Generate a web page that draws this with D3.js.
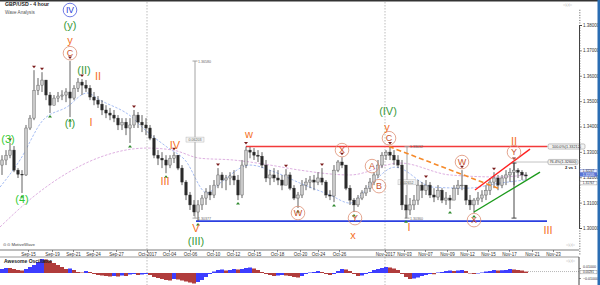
<!DOCTYPE html>
<html><head><meta charset="utf-8">
<script src="https://cdn.jsdelivr.net/npm/d3@7"></script>
<style>body{margin:0;background:#fff}svg{display:block;font-family:"Liberation Sans",Arial,sans-serif}</style>
</head><body><svg id="c" width="600" height="285"></svg>
<script>
// ---- price data (4h candles, GBP/USD) ----
const firstOpen = 1.3248;
const highs = [1.3287,1.3307,1.3335,1.3323,1.3236,1.3228,1.3406,1.3445,1.3622,1.3591,
1.3614,1.3583,1.3536,1.3524,1.3536,1.3543,1.3551,1.3658,1.3563,1.3591,
1.3587,1.3583,1.3563,1.3536,1.3520,1.3504,1.3484,1.3473,1.3465,1.3445,
1.3433,1.3433,1.3433,1.3465,1.3457,1.3445,1.3433,1.3406,1.3366,1.3307,
1.3299,1.3287,1.3287,1.3299,1.3287,1.3248,1.3189,1.3142,1.3110,1.3110,
1.3130,1.3157,1.3169,1.3189,1.3236,1.3220,1.3209,1.3220,1.3228,1.3209,
1.3268,1.3321,1.3319,1.3315,1.3307,1.3299,1.3268,1.3228,1.3236,1.3228,
1.3209,1.3232,1.3220,1.3169,1.3142,1.3189,1.3197,1.3205,1.3209,1.3220,
1.3236,1.3189,1.3149,1.3248,1.3268,1.3279,1.3248,1.3169,1.3118,1.3130,
1.3149,1.3169,1.3197,1.3220,1.3268,1.3299,1.3307,1.3321,1.3307,1.3287,
1.3268,1.3130,1.3118,1.3130,1.3189,1.3181,1.3189,1.3181,1.3157,1.3169,
1.3157,1.3142,1.3130,1.3169,1.3189,1.3228,1.3169,1.3130,1.3118,1.3142,
1.3149,1.3169,1.3197,1.3220,1.3209,1.3209,1.3228,1.3236,1.3260,1.3236,
1.3228,1.3220];
const lows = [1.3209,1.3248,1.3275,1.3220,1.3197,1.3138,1.3205,1.3386,1.3425,1.3524,
1.3536,1.3504,1.3453,1.3484,1.3496,1.3504,1.3496,1.3437,1.3504,1.3536,
1.3524,1.3536,1.3504,1.3484,1.3473,1.3445,1.3433,1.3425,1.3417,1.3386,
1.3386,1.3366,1.3335,1.3394,1.3394,1.3378,1.3366,1.3346,1.3275,1.3248,
1.3236,1.3216,1.3236,1.3256,1.3228,1.3169,1.3110,1.3071,1.3047,1.3028,
1.3071,1.3091,1.3110,1.3118,1.3157,1.3157,1.3149,1.3169,1.3169,1.3110,
1.3118,1.3236,1.3275,1.3268,1.3260,1.3236,1.3181,1.3169,1.3181,1.3169,
1.3149,1.3169,1.3149,1.3110,1.3079,1.3118,1.3149,1.3157,1.3149,1.3169,
1.3169,1.3118,1.3110,1.3102,1.3220,1.3236,1.3149,1.3091,1.3063,1.3083,
1.3110,1.3126,1.3142,1.3169,1.3197,1.3236,1.3268,1.3268,1.3248,1.3236,
1.3071,1.3038,1.3051,1.3071,1.3091,1.3118,1.3130,1.3118,1.3102,1.3110,
1.3098,1.3091,1.3075,1.3110,1.3130,1.3149,1.3091,1.3071,1.3059,1.3091,
1.3102,1.3110,1.3130,1.3157,1.3149,1.3157,1.3169,1.3181,1.3169,1.3197,
1.3189,1.3189];
const closes = [1.3268,1.3287,1.3307,1.3228,1.3212,1.3209,1.3394,1.3433,1.3543,1.3563,
1.3583,1.3524,1.3484,1.3512,1.3520,1.3524,1.3536,1.3512,1.3551,1.3575,
1.3563,1.3551,1.3516,1.3504,1.3488,1.3465,1.3453,1.3445,1.3433,1.3406,
1.3417,1.3394,1.3406,1.3445,1.3417,1.3406,1.3394,1.3354,1.3287,1.3275,
1.3268,1.3248,1.3275,1.3287,1.3236,1.3181,1.3130,1.3091,1.3063,1.3091,
1.3118,1.3142,1.3130,1.3169,1.3209,1.3189,1.3197,1.3205,1.3189,1.3130,
1.3248,1.3307,1.3299,1.3287,1.3283,1.3248,1.3197,1.3209,1.3197,1.3189,
1.3169,1.3209,1.3157,1.3118,1.3130,1.3169,1.3181,1.3189,1.3181,1.3197,
1.3181,1.3130,1.3126,1.3228,1.3260,1.3248,1.3157,1.3110,1.3091,1.3118,
1.3138,1.3157,1.3181,1.3209,1.3248,1.3287,1.3299,1.3287,1.3268,1.3248,
1.3091,1.3071,1.3091,1.3110,1.3169,1.3149,1.3169,1.3130,1.3122,1.3149,
1.3110,1.3118,1.3110,1.3157,1.3169,1.3169,1.3110,1.3091,1.3110,1.3118,
1.3130,1.3149,1.3181,1.3197,1.3169,1.3197,1.3209,1.3220,1.3228,1.3220,
1.3209,1.3205];
// Awesome Oscillator values per candle
const ao = [0.008,0.010,0.010,0.008,0.006,0.005,0.008,0.012,0.016,0.022,
0.028,0.027,0.024,0.020,0.016,0.012,0.008,0.009,0.006,0.002,
0.001,0.004,0.002,-0.002,-0.004,-0.005,-0.006,-0.007,-0.006,-0.007,
-0.005,-0.006,-0.003,-0.002,-0.004,-0.003,-0.002,-0.004,-0.008,-0.010,
-0.012,-0.014,-0.015,-0.012,-0.013,-0.015,-0.017,-0.019,-0.021,-0.018,
-0.014,-0.008,-0.002,0.003,0.006,0.007,0.005,0.006,0.008,0.007,
0.008,0.010,0.011,0.009,0.006,0.002,-0.002,-0.004,-0.006,-0.005,
-0.004,-0.005,-0.006,-0.008,-0.009,-0.006,-0.002,0.001,0.002,0.004,
0.002,-0.002,-0.004,-0.002,0.004,0.008,0.007,0.004,-0.002,-0.006,
-0.005,-0.002,0.002,0.006,0.008,0.010,0.012,0.011,0.009,0.006,
-0.002,-0.008,-0.012,-0.011,-0.009,-0.006,-0.004,-0.002,-0.0025,0.001,
0.002,0.004,0.005,0.004,0.005,0.006,0.004,-0.001,-0.002,-0.001,
0.001,0.003,0.004,0.006,0.005,0.0055,0.006,0.008,0.007,0.006,
0.005,0.0029];
const aoLast = 0.00291;
// moving averages (read at points)
const maFastIdx = [-0.5,4.5,10.25,16.25,21.25,24.5,32.75,35.25,41.25,45.75,51.25,54.5,62,68.25,74.5,82,87,92,98.25,107.75,116.25,124.5,130.75];
const maFast = [1.3161,1.3268,1.3425,1.3477,1.3532,1.3504,1.3433,1.3394,1.3319,1.3268,1.3138,1.3177,1.3248,1.3220,1.3177,1.3130,1.3098,1.3169,1.3240,1.3161,1.3157,1.3177,1.3189];
const maSlowIdx = [-0.5,7.75,16.25,24.5,36.25,42.75,49.5,57.75,67,74.5,87,99.5,112,124.5,130.75];
const maSlow = [1.3004,1.3122,1.3216,1.3279,1.3315,1.3307,1.3275,1.3268,1.3248,1.3228,1.3209,1.3256,1.3209,1.3201,1.3209];
// axes
const priceTicks = [1.30,1.31,1.32,1.33,1.34,1.35,1.36,1.37,1.38];
const dateTickIdx = [6.5,12.5,17.75,22.75,28.5,36.25,41.75,47,52.75,57.75,63,68.75,74.5,79,84.25,95.75,100.5,105.75,111.25,116.25,121.5,126.75,132.5,137.75];
const dateTickLabels = ["Sep-15","Sep-19","Sep-21","Sep-24","Sep-27","Oct-2017","Oct-04","Oct-06","Oct-10","Oct-12","Oct-15","Oct-18","Oct-20","Oct-24","Oct-26","Nov-2017","Nov-03","Nov-07","Nov-09","Nov-12","Nov-15","Nov-17","Nov-21","Nov-23"];
const monthLineIdx = [36.25,95.75];
// swing markers
const topMarkIdx = [2,8,10,17,20,33,43,54,61,71,80,85,97,106,115,123,128];
const lowMarkIdx = [5,12,17,32,41,49,59,74,83,88,101,112,118];
// wave labels
const waveText = ["IV","(y)","y","C","(II)","II","(I)","I","(3)","(4)","IV","III","V","(III)","w","W","X","Y","x","A","B","C","y","(IV)","I","W","X","Y","II","III"];
const waveIdx = [17,17,17,17,20.5,24,17,22.25,1.5,5,43.25,40.75,48.5,48.5,61.75,74,85,88.25,87.75,92.5,94.25,96.75,96.25,96.5,101.75,115,118,128,128,136.5];
const wavePrice = [1.3859,1.3800,1.3740,1.3689,1.3622,1.3599,1.3413,1.3417,1.3350,1.3114,1.3327,1.3185,1.3000,1.2948,1.3370,1.3059,1.3307,1.3039,1.2972,1.3244,1.3165,1.3354,1.3398,1.3461,1.3004,1.3260,1.3031,1.3299,1.3342,1.2992];
const waveKind = ["b","g","o","c","g","o","g","o","lg","lg","o","o","o","g","o","c","c","c","o","c","c","c","o","g","o","c","c","c","o","o"];
// levels and lines
const redLevel = 1.33212, redFrom = 61, redTo = 136.25;
const blueLevel = 1.3027, blueFrom = 48.5, blueTo = 136.25;
const orangeDash = [[96.75,1.3321],[124,1.3157]];
const redTrend = [[118.25,1.3150],[132,1.3311]];
const greenTrend = [[118,1.3063],[134.5,1.3220]];
const measIdx = [48.25,101.25,128];
const measTop = [1.3658,1.3321,1.3256];
const measBot = [1.3039,1.3039,1.3039];
const measTopLbl = ["1.36580","1.33012",""];
const measBotLbl = ["1.30377","1.30360",""];
const measMidLbl = ["0.06203","0.02652",""];
const fibLabels = ["100.0%(1.33212)","76.4%(1.32600)"];
const fibPrices = [1.33212,1.32600];
const axisBoxes = [1.32247,1.32105,1.31767];

// ---- drawing ----
const svg = d3.select("#c");
const x = d3.scaleLinear().domain([-0.5,144]).range([0,578]);
const y = d3.scaleLinear().domain([1.30,1.38]).range([228,25]);
const yo = d3.scaleLinear().domain([-0.01,0.01]).range([278,268]);
const fmt5 = d3.format(".5f");

svg.append("rect").attr("width",600).attr("height",285).attr("fill","#fff");
const defs = svg.append("defs");
defs.append("clipPath").attr("id","mainclip").append("rect").attr("x",0).attr("y",2).attr("width",578).attr("height",248);
defs.append("clipPath").attr("id","oclip").append("rect").attr("x",0).attr("y",257).attr("width",578).attr("height",28);

// month separators
monthLineIdx.forEach(m=>{
  svg.append("line").attr("x1",x(m)).attr("x2",x(m)).attr("y1",2).attr("y2",285)
    .attr("stroke","#b5b5b5").attr("stroke-width",0.9).attr("stroke-dasharray","1.5,1.5");
});

const main = svg.append("g").attr("clip-path","url(#mainclip)");

// moving averages
const lineGen = d3.line().curve(d3.curveMonotoneX);
main.append("path").attr("d",lineGen(maSlowIdx.map((d,i)=>[x(d),y(maSlow[i])])))
  .attr("fill","none").attr("stroke","#d9a6dc").attr("stroke-width",0.9).attr("stroke-dasharray","2.5,1.5");
main.append("path").attr("d",lineGen(maFastIdx.map((d,i)=>[x(d),y(maFast[i])])))
  .attr("fill","none").attr("stroke","#9db7f2").attr("stroke-width",0.9).attr("stroke-dasharray","2.5,1.5");

// horizontal levels
main.append("line").attr("x1",x(blueFrom)).attr("x2",x(blueTo)).attr("y1",y(blueLevel)).attr("y2",y(blueLevel))
  .attr("stroke","#2b3fe0").attr("stroke-width",1.6);
main.append("line").attr("x1",x(redFrom)).attr("x2",x(redTo)).attr("y1",y(redLevel)).attr("y2",y(redLevel))
  .attr("stroke","#f23a3a").attr("stroke-width",1.6);

// measure lines
measIdx.forEach((m,i)=>{
  const col = i===2 ? "#333" : "#9a9a9a";
  main.append("line").attr("x1",x(m)).attr("x2",x(m)).attr("y1",y(measTop[i])).attr("y2",y(measBot[i])).attr("stroke",col).attr("stroke-width",0.9);
  [measTop[i],measBot[i]].forEach(p=>main.append("line").attr("x1",x(m)-2.5).attr("x2",x(m)+2.5).attr("y1",y(p)).attr("y2",y(p)).attr("stroke",col).attr("stroke-width",0.9));
  if(measTopLbl[i]){
    main.append("text").attr("x",x(m)+3).attr("y",y(measTop[i])+1.5).text(measTopLbl[i]).attr("font-size",3.6).attr("fill","#666");
    main.append("text").attr("x",x(m)+3).attr("y",y(measBot[i])+1.5).text(measBotLbl[i]).attr("font-size",3.6).attr("fill","#666");
    const my = (y(measTop[i])+y(measBot[i]))/2;
    main.append("rect").attr("x",x(m)-9).attr("y",my-2.5).attr("width",18).attr("height",5).attr("fill","#f4f4f4").attr("stroke","#aaa").attr("stroke-width",0.4);
    main.append("text").attr("x",x(m)).attr("y",my+1.3).attr("text-anchor","middle").text(measMidLbl[i]).attr("font-size",3.6).attr("fill","#666");
  }
});

// candles (open taken as the previous candle's close)
const opens = closes.map((c,i)=> i===0 ? firstOpen : closes[i-1]);
const cg = main.append("g");
closes.forEach((c,i)=>{
  const o = opens[i], up = c>=o;
  cg.append("line").attr("x1",x(i)).attr("x2",x(i)).attr("y1",y(highs[i])).attr("y2",y(lows[i])).attr("stroke","#3a3a3a").attr("stroke-width",0.8);
  const t = y(Math.max(o,c)), b = y(Math.min(o,c));
  cg.append("rect").attr("x",x(i)-1.2).attr("y",t).attr("width",2.4).attr("height",Math.max(0.8,b-t))
    .attr("fill",up?"#c9c9c9":"#2a2a2a").attr("stroke",up?"#4a4a4a":"#2a2a2a").attr("stroke-width",0.4);
});

// swing markers
topMarkIdx.forEach(i=>{
  const cx=x(i), cy=y(highs[i])-2;
  main.append("path").attr("d",`M${cx-2},${cy-2.5}L${cx+2},${cy-2.5}L${cx},${cy}Z`).attr("fill","#7b1c1c");
});
lowMarkIdx.forEach(i=>{
  const cx=x(i), cy=y(lows[i])+2;
  main.append("path").attr("d",`M${cx-2},${cy+2.5}L${cx+2},${cy+2.5}L${cx},${cy}Z`).attr("fill","#2f8a2f");
});

// trend lines
const seg = (pts,col,w,dash)=>{
  const l = main.append("line").attr("x1",x(pts[0][0])).attr("y1",y(pts[0][1])).attr("x2",x(pts[1][0])).attr("y2",y(pts[1][1]))
   .attr("stroke",col).attr("stroke-width",w);
  if(dash) l.attr("stroke-dasharray",dash);
};
seg(orangeDash,"#f58a2a",1.6,"5,3");
seg(redTrend,"#f22",1.4);
seg(greenTrend,"#1c9a1c",1.4);

// fib labels
fibPrices.forEach((p,i)=>{
  const yy = y(p);
  const x0 = i===0 ? x(redTo) : x(measIdx[2]);
  svg.append("line").attr("x1",x0).attr("x2",548).attr("y1",yy).attr("y2",yy).attr("stroke","#999").attr("stroke-width",0.6);
  const w = i===0?37:30;
  svg.append("rect").attr("x",548).attr("y",yy-2.6).attr("width",w).attr("height",5.2).attr("rx",1.5).attr("fill","#f3f3f3").attr("stroke","#888").attr("stroke-width",0.5);
  svg.append("text").attr("x",548+w/2).attr("y",yy+1.4).attr("text-anchor","middle").text(fibLabels[i]).attr("font-size",3.8).attr("fill","#333");
});
svg.append("text").attr("x",565).attr("y",y(1.32600)+7).text("2 vs 1").attr("font-size",4.2).attr("font-weight","bold").attr("fill","#222");

// wave labels
const colors = {g:"#3a9a3a",lg:"#33cc33",o:"#f5701f",c:"#c9532c",b:"#2536d6"};
waveText.forEach((t,i)=>{
  const k = waveKind[i], cx = x(waveIdx[i]), cy = y(wavePrice[i]);
  if(k==="c"||k==="b"){
    svg.append("circle").attr("cx",cx).attr("cy",cy).attr("r",6.8).attr("fill","none")
      .attr("stroke",k==="b"?"#4a5be0":"#dd8f74").attr("stroke-width",0.8);
    svg.append("text").attr("x",cx).attr("y",cy).attr("dy","0.35em").attr("text-anchor","middle")
      .text(t).attr("font-size",k==="b"?8.5:9).attr("fill",colors[k]);
  } else {
    svg.append("text").attr("x",cx).attr("y",cy).attr("dy","0.36em").attr("text-anchor","middle")
      .text(t).attr("font-size",11).attr("fill",colors[k]);
  }
});

// right price axis
const ax = svg.append("g").attr("transform","translate(579,0)");
ax.call(d3.axisRight(y).tickValues(priceTicks).tickSize(3).tickFormat(fmt5));
ax.append("g").call(d3.axisRight(y).tickValues(d3.range(0,97).map(k=>1.29+k*0.001)).tickSize(1.5).tickFormat(""));
ax.selectAll(".domain").attr("stroke","#444");
ax.selectAll("line").attr("stroke","#444").attr("stroke-width",0.6);
ax.selectAll("text").attr("font-size",4.5).attr("fill","#333").attr("x",4);
// current price boxes
axisBoxes.forEach((p,i)=>{
  const yy=y(p);
  svg.append("rect").attr("x",580).attr("y",yy-1.75).attr("width",17).attr("height",3.5)
    .attr("fill",i===1?"#5a76d6":(i===0?"#e6ecff":"#fff")).attr("stroke",i===2?"#777":"#4c66c8").attr("stroke-width",0.4);
  svg.append("text").attr("x",588.5).attr("y",yy+1.1).attr("text-anchor","middle").text(fmt5(p)).attr("font-size",3.2).attr("fill",i===1?"#fff":"#223");
});

// date axis
svg.append("line").attr("x1",0).attr("x2",579).attr("y1",250).attr("y2",250).attr("stroke","#444").attr("stroke-width",0.7);
const dx = svg.append("g").attr("transform","translate(0,250)");
dx.call(d3.axisBottom(x).tickValues(dateTickIdx).tickSize(2).tickFormat((d,i)=>dateTickLabels[i]));
dx.select(".domain").remove();
dx.selectAll("line").attr("stroke","#444").attr("stroke-width",0.6);
dx.selectAll("text").attr("font-size",4.5).attr("fill","#333").attr("y",3);
svg.append("line").attr("x1",0).attr("x2",579).attr("y1",257).attr("y2",257).attr("stroke","#555").attr("stroke-width",0.6);

// oscillator
const og = svg.append("g").attr("clip-path","url(#oclip)");
ao.forEach((v,i)=>{
  const upc = i===0 ? true : v>ao[i-1];
  og.append("rect").attr("x",x(i)-2).attr("width",4).attr("y",Math.min(yo(0),yo(v))).attr("height",Math.abs(yo(v)-yo(0)))
    .attr("fill",upc?"#3d3dff":"#b03c3c");
});
svg.append("line").attr("x1",x(ao.length-0.5)).attr("x2",579).attr("y1",yo(aoLast)).attr("y2",yo(aoLast)).attr("stroke","#888").attr("stroke-width",0.6).attr("stroke-dasharray","1,1");
const ox = svg.append("g").attr("transform","translate(579,0)");
ox.call(d3.axisRight(yo).tickValues([-0.01,0.01]).tickSize(2).tickFormat(fmt5));
ox.select(".domain").attr("d","M0,257V285").attr("stroke","#444");
ox.selectAll("line").attr("stroke","#444").attr("stroke-width",0.6);
ox.selectAll("text").attr("font-size",3.6).attr("fill","#333").attr("x",4);
ox.selectAll(".tick").filter(d=>d>0).select("text").attr("dy","-0.25em");
svg.append("rect").attr("x",580).attr("y",yo(aoLast)-1.5+0.6).attr("width",17).attr("height",3.2).attr("fill","#fff").attr("stroke","#777").attr("stroke-width",0.4);
svg.append("text").attr("x",588.5).attr("y",yo(aoLast)+1.7).attr("text-anchor","middle").text(fmt5(aoLast)).attr("font-size",3).attr("fill","#222");
svg.append("text").attr("x",4).attr("y",263).text("Awesome Oscillator").attr("font-size",5).attr("font-weight","bold").attr("fill","#222");

// titles and widgets
svg.append("text").attr("x",5).attr("y",6).text("GBP/USD - 4 hour").attr("font-size",5.2).attr("font-weight","bold").attr("fill","#222");
svg.append("text").attr("x",5).attr("y",13.5).text("Wave Analysis").attr("font-size",4.6).attr("fill","#555");
svg.append("text").attr("x",3).attr("y",246).text("⊙ ⊙ MotiveWave").attr("font-size",4.3).attr("fill","#444");
[[563,6],[566,246],[566,262]].forEach(p=>svg.append("text").attr("x",p[0]).attr("y",p[1]).text("◁◇▷").attr("font-size",4).attr("fill","#999"));

// frame
svg.append("rect").attr("x",0).attr("y",0).attr("width",600).attr("height",1.5).attr("fill","#333");
svg.append("rect").attr("x",597.5).attr("y",0).attr("width",2.5).attr("height",285).attr("fill","#2a6db3");
</script></body></html>
